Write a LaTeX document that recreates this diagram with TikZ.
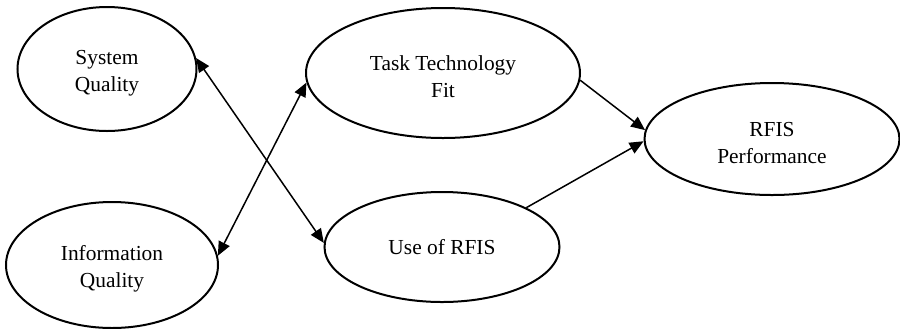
\documentclass[tikz,border=0pt]{standalone}
\usepackage{fontspec}
\setmainfont{Liberation Serif}
\usetikzlibrary{shapes.geometric,arrows.meta}
% invisible strut that lowers two-line labels a little inside their ellipse
\newcommand\firstline{\rule{0pt}{11.5pt}}
\begin{document}
\begin{tikzpicture}[x=0.5pt,y=-0.5pt,
  construct/.style={ellipse,draw,line width=1pt,inner sep=0pt,align=center,
    font=\fontsize{10.7pt}{13.5pt}\selectfont},
  link/.style={line width=0.75pt,-{Triangle[length=7pt,width=6pt]}},
  twoway/.style={line width=0.75pt,{Triangle[length=7pt,width=6pt]}-{Triangle[length=7pt,width=6pt]}}]
  \useasboundingbox (0,0) rectangle (900,328);
  % latent constructs
  \node[construct,minimum width=89.5pt,minimum height=62pt] (sq) at (107,69) {\firstline System\\Quality};
  \node[construct,minimum width=106pt,minimum height=63pt] (iq) at (112,265) {\firstline Information\\Quality};
  \node[construct,minimum width=137pt,minimum height=65pt] (ttf) at (443,73) {\firstline Task Technology\\Fit};
  \node[construct,minimum width=117.5pt,minimum height=55pt] (use) at (442,247) {Use of RFIS};
  \node[construct,minimum width=127.5pt,minimum height=56pt] (perf) at (772,139) {\firstline RFIS\\Performance};
  % paths between constructs
  \draw[twoway] (sq.7) -- (use.178);
  \draw[twoway] (iq.5) -- (ttf.184);
  \draw[link] (ttf.357) -- (perf.176);
  \draw[link] (use.25) -- (perf.181);
\end{tikzpicture}
\end{document}
